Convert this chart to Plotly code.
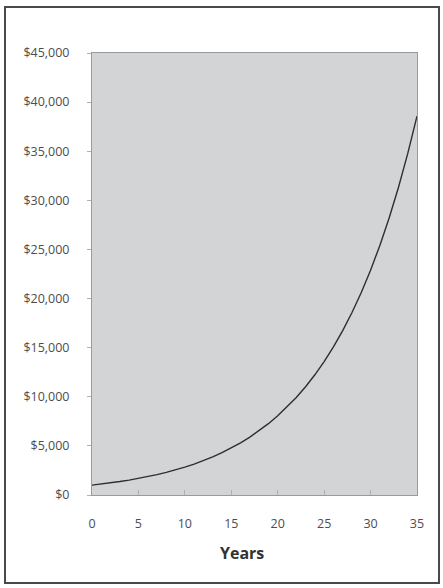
import plotly.graph_objects as go

# values (one point per year)
years = list(range(0, 36))
balance = [1000, 1110, 1232, 1368, 1518, 1685, 1870, 2076, 2305, 2558,
           2839, 3152, 3498, 3883, 4310, 4785, 5311, 5895, 6544, 7263,
           8062, 8949, 9934, 11026, 12239, 13585, 15080, 16739, 18580, 20624,
           22892, 25410, 28206, 31308, 34752, 38575]

x_ticks = [0, 5, 10, 15, 20, 25, 30, 35]
y_ticks = [0, 5000, 10000, 15000, 20000, 25000, 30000, 35000, 40000, 45000]
y_labels = ["$0", "$5,000", "$10,000", "$15,000", "$20,000", "$25,000",
            "$30,000", "$35,000", "$40,000", "$45,000"]
x_title = "Years"

W, H = 443, 588
L, R, T, B = 92, 26, 53, 93
pw, ph = W - L - R, H - T - B

fig = go.Figure(go.Scatter(x=years, y=balance, mode="lines",
                           line=dict(color="#2e2e2e", width=1.4),
                           hoverinfo="x+y", showlegend=False))

font = dict(family="Open Sans, sans-serif", size=12.5, color="#4d4d4d")

fig.update_layout(
    width=W, height=H,
    margin=dict(l=L, r=R, t=T, b=B),
    paper_bgcolor="white",
    plot_bgcolor="#d3d4d6",
    font=font,
    xaxis=dict(range=[0, 35], tickvals=x_ticks, showgrid=False, zeroline=False,
               showline=True, mirror=True, linecolor="#9a9a9a", linewidth=1,
               ticks="inside", ticklen=5, tickcolor="#b0b0b0",
               ticklabelstandoff=17),
    yaxis=dict(range=[0, 45000], tickvals=y_ticks, ticktext=y_labels,
               showgrid=False, zeroline=False,
               showline=True, mirror=True, linecolor="#9a9a9a", linewidth=1,
               ticks="outside", ticklen=4, tickcolor="#b0b0b0",
               ticklabelstandoff=15),
    annotations=[dict(text="<b>" + x_title + "</b>", xref="paper", yref="paper",
                      x=(242 - L) / pw, y=(495 - 553) / ph,
                      xanchor="center", yanchor="middle", showarrow=False,
                      font=dict(family="Open Sans, sans-serif", size=16,
                                color="#333333"))],
    shapes=[dict(type="rect", xref="paper", yref="paper",
                 x0=(5 - L) / pw, x1=(439 - L) / pw,
                 y0=(495 - 583) / ph, y1=(495 - 7) / ph,
                 line=dict(color="#4a4a4a", width=2), layer="below")],
)

# drop the page's default body margin so the figure sits at the window corner
fig.write_html("out.html", config={"displayModeBar": False},
               post_script="document.body.style.margin='0';")
